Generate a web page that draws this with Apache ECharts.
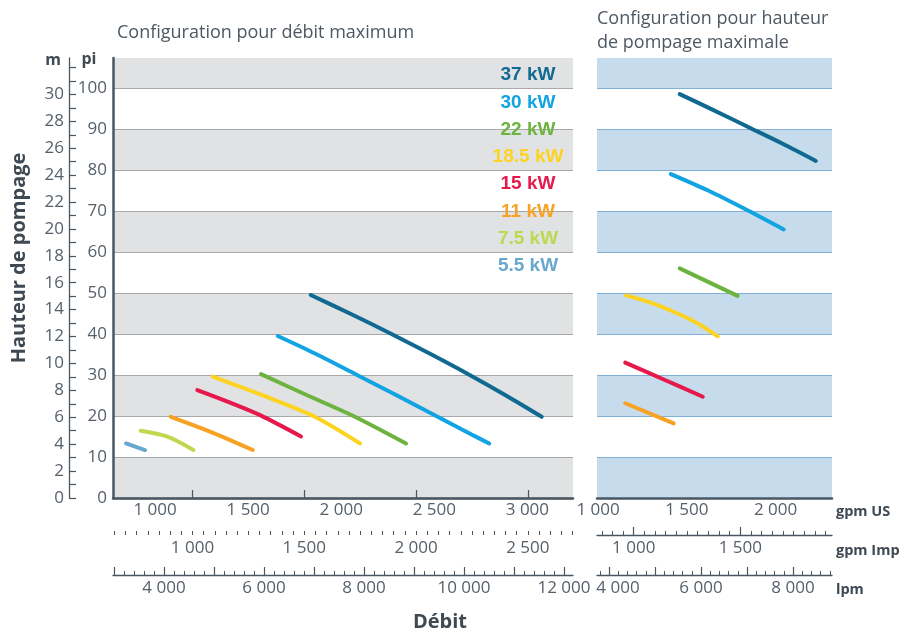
<!DOCTYPE html>
<html><head><meta charset="utf-8">
<script src="https://cdn.jsdelivr.net/npm/echarts@6/dist/echarts.min.js"></script>
<style>html,body{margin:0;padding:0;background:#fff}#c{width:899px;height:635px}</style>
</head><body><div id="c"></div>
<script>
// ---- categories ----
const powers = ['37 kW', '30 kW', '22 kW', '18.5 kW', '15 kW', '11 kW', '7.5 kW', '5.5 kW'];
const colors = ['#106990', '#12a4e2', '#6db33f', '#fdd321', '#e5194b', '#f7a224', '#bfd84e', '#67a8ce'];

// ---- Configuration pour débit maximum : [gpm US, pi] ----
const maxFlow37 = [[1836, 49.5], [2055, 44.8], [2270, 40.0], [2480, 35.1], [2690, 30.0], [2885, 25.0], [3077, 19.8]];
const maxFlow30 = [[1659, 39.5], [1870, 35.0], [2085, 30.0], [2300, 25.0], [2510, 20.0], [2700, 15.5], [2795, 13.3]];
const maxFlow22 = [[1569, 30.2], [1820, 25.0], [2065, 20.0], [2348, 13.3]];
const maxFlow18 = [[1310, 29.6], [1580, 25.0], [1850, 20.0], [2101, 13.3]];
const maxFlow15 = [[1227, 26.3], [1400, 23.3], [1564, 20.2], [1784, 15.0]];
const maxFlow11 = [[1084, 19.8], [1295, 16.2], [1525, 11.7]];
const maxFlow75 = [[923, 16.4], [1063, 15.0], [1206, 11.7]];
const maxFlow55 = [[844, 13.3], [946, 11.7]];

// ---- Configuration pour hauteur de pompage maximale : [gpm US, pi] ----
const maxHead37 = [[1460, 98.5], [1650, 94.6], [1840, 90.6], [2035, 86.5], [2227, 82.2]];
const maxHead30 = [[1410, 79.0], [1620, 75.0], [1823, 70.6], [2046, 65.5]];
const maxHead22 = [[1460, 56.0], [1786, 49.3]];
const maxHead18 = [[1158, 49.4], [1300, 47.6], [1432, 45.3], [1560, 42.6], [1674, 39.4]];
const maxHead15 = [[1153, 33.0], [1370, 28.9], [1590, 24.7]];
const maxHead11 = [[1153, 23.1], [1426, 18.2]];

// ---- tick labels ----
const headFtTicks = [0, 10, 20, 30, 40, 50, 60, 70, 80, 90, 100];
const headMTicks = [0, 2, 4, 6, 8, 10, 12, 14, 16, 18, 20, 22, 24, 26, 28, 30];
const gpmUsTicksL = [1000, 1500, 2000, 2500, 3000];
const gpmImpTicksL = [1000, 1500, 2000, 2500];
const lpmTicksL = [4000, 6000, 8000, 10000, 12000];
const gpmUsTicksR = [1000, 1500, 2000];
const gpmImpTicksR = [1000, 1500];
const lpmTicksR = [4000, 6000, 8000];

// ---- axis extents ----
const ftMax = 107.3;
const mMax = ftMax * 0.3048;
const IMP = 1.20095;
const usL = [774, 3245], lpmL = [2980, 12180];
const usR = [994, 2318], lpmR = [3739, 8848];

function steps(a, b, s) { const r = []; for (let v = Math.ceil(a / s) * s; v <= b + 1e-9; v += s) r.push(v); return r; }
const fmt = v => String(v).replace(/\B(?=(\d{3})+(?!\d))/g, ' ');

const FONT = 'Open Sans';
const LBL = '#56606a';
const DARK = '#4a5762';
const lblStyle = { fontFamily: FONT, fontSize: 17, color: LBL };

function bottomAxes(grid, us, lpm, usTicks, impTicks, lpmTicks, lpmFmt) {
  const imp = [us[0] / IMP, us[1] / IMP];
  return [
    { gridIndex: grid, type: 'value', position: 'bottom', min: us[0], max: us[1],
      axisLine: { show: true, lineStyle: { color: DARK, width: 2.5 } }, axisTick: { show: false },
      splitLine: { show: false },
      axisLabel: Object.assign({ customValues: usTicks, margin: 4, formatter: fmt }, lblStyle) },
    { gridIndex: grid, type: 'value', position: 'bottom', offset: 37, min: imp[0], max: imp[1],
      axisLine: { show: true, lineStyle: { color: DARK, width: 1.3 } },
      axisTick: { show: true, inside: true, length: 8, customValues: steps(imp[0], imp[1], 500), lineStyle: { color: DARK, width: 1.2 } },
      splitLine: { show: false },
      axisLabel: Object.assign({ customValues: impTicks, margin: 5, formatter: fmt }, lblStyle) },
    { gridIndex: grid, type: 'value', position: 'bottom', offset: 37, min: imp[0], max: imp[1],
      axisLine: { show: false }, splitLine: { show: false }, axisLabel: { show: false },
      axisTick: { show: true, inside: true, length: 4, customValues: steps(imp[0], imp[1], 50), lineStyle: { color: DARK, width: 1 } } },
    { gridIndex: grid, type: 'value', position: 'bottom', offset: 77, min: lpm[0], max: lpm[1],
      axisLine: { show: true, lineStyle: { color: DARK, width: 1.3 } },
      axisTick: { show: true, inside: true, length: 8, customValues: steps(lpm[0], lpm[1], 1000), lineStyle: { color: DARK, width: 1.2 } },
      splitLine: { show: false },
      axisLabel: Object.assign({ customValues: lpmTicks, margin: 5, formatter: lpmFmt || fmt,
        rich: { sh: { fontFamily: FONT, fontSize: 17, color: LBL, padding: [0, 0, 0, 18] } } }, lblStyle) },
    { gridIndex: grid, type: 'value', position: 'bottom', offset: 77, min: lpm[0], max: lpm[1],
      axisLine: { show: false }, splitLine: { show: false }, axisLabel: { show: false },
      axisTick: { show: true, inside: true, length: 4, customValues: steps(lpm[0], lpm[1], 200), lineStyle: { color: DARK, width: 1 } } }
  ];
}

const xAxes = bottomAxes(0, usL, lpmL, gpmUsTicksL, gpmImpTicksL, lpmTicksL)
  .concat(bottomAxes(1, usR, lpmR, gpmUsTicksR, gpmImpTicksR, lpmTicksR, v => v === lpmTicksR[0] ? '{sh|' + fmt(v) + '}' : fmt(v)));

const yAxes = [
  { gridIndex: 0, type: 'value', position: 'left', min: 0, max: ftMax, interval: 10,
    axisLine: { show: true, lineStyle: { color: DARK, width: 2.5 } }, axisTick: { show: false },
    axisLabel: Object.assign({ customValues: headFtTicks, margin: 6 }, lblStyle),
    splitLine: { show: true, showMaxLine: false, lineStyle: { color: '#a6a8aa', width: 1 } },
    splitArea: { show: true, areaStyle: { color: ['#e1e2e4', '#ffffff'] } } },
  { gridIndex: 0, type: 'value', position: 'left', offset: 44, min: 0, max: mMax,
    axisLine: { show: true, lineStyle: { color: DARK, width: 1.3 } },
    axisTick: { show: true, inside: true, length: 7, customValues: steps(0, mMax, 1), lineStyle: { color: DARK, width: 1.2 } },
    axisLabel: Object.assign({ customValues: headMTicks, margin: 5 }, lblStyle),
    splitLine: { show: false }, splitArea: { show: false } },
  { gridIndex: 1, type: 'value', position: 'left', min: 0, max: ftMax, interval: 10,
    axisLine: { show: false }, axisTick: { show: false }, axisLabel: { show: false },
    splitLine: { show: true, showMaxLine: false, lineStyle: { color: '#7fb2d6', width: 1 } },
    splitArea: { show: true, areaStyle: { color: ['#c6dcec', '#ffffff'] } } }
];

const leftData = [maxFlow37, maxFlow30, maxFlow22, maxFlow18, maxFlow15, maxFlow11, maxFlow75, maxFlow55];
const rightData = [maxHead37, maxHead30, maxHead22, maxHead18, maxHead15, maxHead11];

const series = [];
leftData.forEach((d, i) => series.push({ name: powers[i], type: 'line', xAxisIndex: 0, yAxisIndex: 0, data: d,
  smooth: 0.3, showSymbol: false, silent: true, lineStyle: { color: colors[i], width: 4, cap: 'round' } }));
rightData.forEach((d, i) => series.push({ name: powers[i], type: 'line', xAxisIndex: 5, yAxisIndex: 2, data: d,
  smooth: 0.3, showSymbol: false, silent: true, lineStyle: { color: colors[i], width: 4, cap: 'round' } }));

const BOLD = '#3e4953';
const graphics = [
  { type: 'text', x: 117, y: 33, style: { text: 'Configuration pour débit maximum', fontFamily: FONT, fontSize: 18, fill: '#4d5862', verticalAlign: 'middle' } },
  { type: 'text', x: 597, y: 31, style: { text: 'Configuration pour hauteur\nde pompage maximale', fontFamily: FONT, fontSize: 18, lineHeight: 24, fill: '#4d5862', verticalAlign: 'middle' } },
  { type: 'text', x: 53, y: 60, style: { text: 'm', fontFamily: FONT, fontWeight: 'bold', fontSize: 16, fill: BOLD, align: 'center', verticalAlign: 'middle' } },
  { type: 'text', x: 89, y: 59, style: { text: 'pi', fontFamily: FONT, fontWeight: 'bold', fontSize: 16, fill: BOLD, align: 'center', verticalAlign: 'middle' } },
  { type: 'text', x: 19, y: 258, rotation: Math.PI / 2, style: { text: 'Hauteur de pompage', fontFamily: FONT, fontWeight: 'bold', fontSize: 20, fill: BOLD, align: 'center', verticalAlign: 'middle' } },
  { type: 'text', x: 440, y: 622, style: { text: 'Débit', fontFamily: FONT, fontWeight: 'bold', fontSize: 20, fill: BOLD, align: 'center', verticalAlign: 'middle' } },
  { type: 'text', x: 836, y: 512, style: { text: 'gpm US', fontFamily: FONT, fontWeight: 'bold', fontSize: 14.5, fill: BOLD, verticalAlign: 'middle' } },
  { type: 'text', x: 836, y: 551, style: { text: 'gpm Imp', fontFamily: FONT, fontWeight: 'bold', fontSize: 14.5, fill: BOLD, verticalAlign: 'middle' } },
  { type: 'text', x: 836, y: 590, style: { text: 'lpm', fontFamily: FONT, fontWeight: 'bold', fontSize: 14.5, fill: BOLD, verticalAlign: 'middle' } }
];
powers.forEach((p, i) => graphics.push({ type: 'text', x: 528, y: 75 + i * 27.3, z: 10,
  style: { text: p, fontFamily: 'Liberation Sans', fontWeight: 'bold', fontSize: 19, fill: colors[i], align: 'center', verticalAlign: 'middle' } }));

const chart = echarts.init(document.getElementById('c'), null, { renderer: 'canvas' });
chart.setOption({
  animation: false,
  backgroundColor: '#ffffff',
  grid: [
    { left: 113, top: 58, width: 460, height: 440, containLabel: false, outerBoundsMode: 'none' },
    { left: 597, top: 58, width: 235, height: 440, containLabel: false, outerBoundsMode: 'none' }
  ],
  xAxis: xAxes,
  yAxis: yAxes,
  series: series,
  graphic: graphics
});
</script></body></html>
